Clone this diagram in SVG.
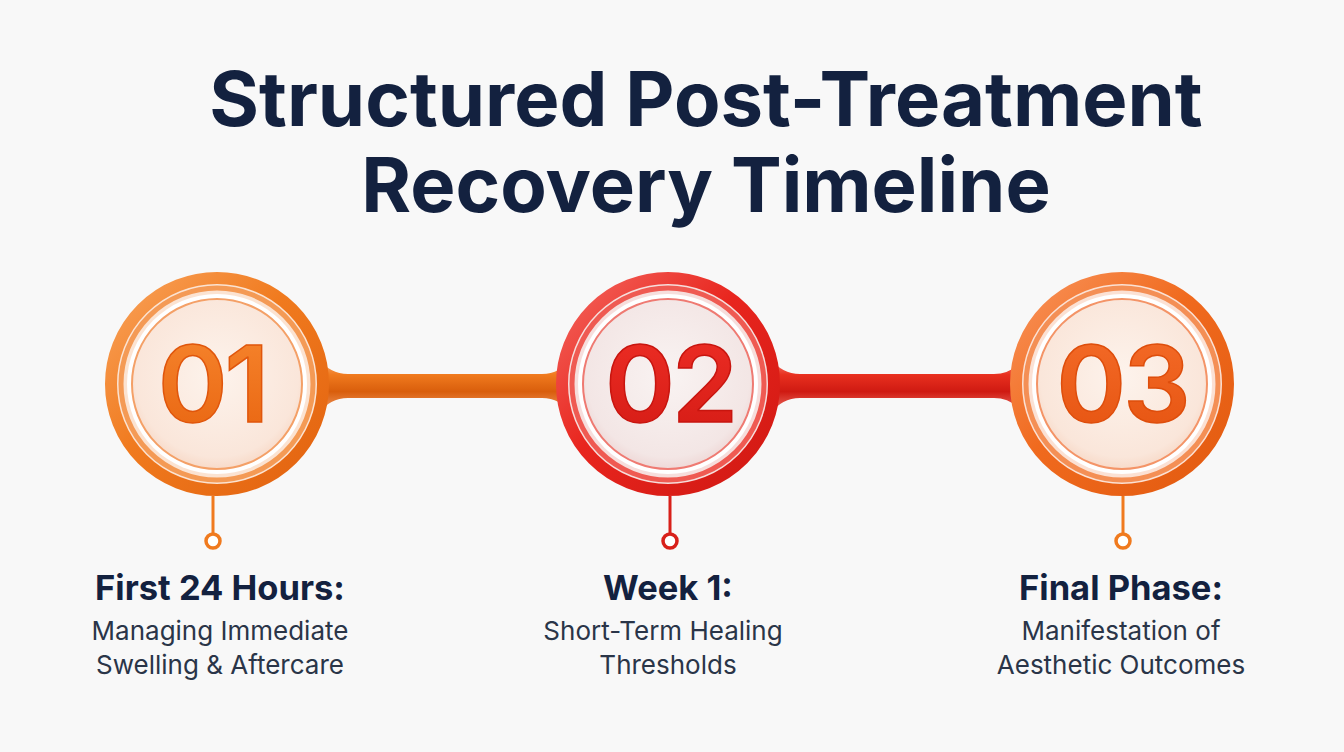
<svg xmlns="http://www.w3.org/2000/svg" width="1344" height="752" viewBox="0 0 1344 752">
<defs>
<style>
.title{font-family:Inter,"Liberation Sans",sans-serif;font-weight:700;font-size:76px;fill:#13213f;text-anchor:middle}
.head{font-family:Inter,"Liberation Sans",sans-serif;font-weight:700;font-size:34.5px;fill:#13213f;text-anchor:middle}
.sub{font-family:Inter,"Liberation Sans",sans-serif;font-weight:400;font-size:26px;fill:#2a3548;text-anchor:middle}
.num{font-family:Inter,"Liberation Sans",sans-serif;font-weight:600;font-size:106px;text-anchor:middle;letter-spacing:-3px}
</style>
<linearGradient id="ringO" x1="0" y1="0" x2="1" y2="1">
<stop offset="0" stop-color="#f9a25a"/><stop offset="0.45" stop-color="#f07a1e"/><stop offset="1" stop-color="#e2620f"/>
</linearGradient>
<linearGradient id="ringR" x1="0" y1="0" x2="1" y2="1">
<stop offset="0" stop-color="#f4665e"/><stop offset="0.45" stop-color="#e8251e"/><stop offset="1" stop-color="#d01812"/>
</linearGradient>
<linearGradient id="ringO3" x1="0" y1="0" x2="1" y2="1">
<stop offset="0" stop-color="#f9935a"/><stop offset="0.45" stop-color="#f06a1e"/><stop offset="1" stop-color="#e25a0f"/>
</linearGradient>
<radialGradient id="discO" cx="0.5" cy="0.45" r="0.6">
<stop offset="0" stop-color="#fdf3ec"/><stop offset="0.8" stop-color="#fae6da"/><stop offset="1" stop-color="#f6d2bd"/>
</radialGradient>
<radialGradient id="discR" cx="0.5" cy="0.45" r="0.6">
<stop offset="0" stop-color="#f9f3f2"/><stop offset="0.8" stop-color="#f3e6e5"/><stop offset="1" stop-color="#eccfcd"/>
</radialGradient>
<linearGradient id="numO" x1="0" y1="0" x2="0" y2="1">
<stop offset="0" stop-color="#f7872f"/><stop offset="1" stop-color="#e8630f"/>
</linearGradient>
<linearGradient id="numR" x1="0" y1="0" x2="0" y2="1">
<stop offset="0" stop-color="#ef2f26"/><stop offset="1" stop-color="#d31a14"/>
</linearGradient>
<linearGradient id="numO3" x1="0" y1="0" x2="0" y2="1">
<stop offset="0" stop-color="#f56d2a"/><stop offset="1" stop-color="#e5520f"/>
</linearGradient>
<linearGradient id="barO" x1="0" y1="0" x2="0" y2="1">
<stop offset="0" stop-color="#f9b07a"/><stop offset="0.3" stop-color="#f07a1e"/><stop offset="0.6" stop-color="#d95e0c"/><stop offset="1" stop-color="#f4a06a"/>
</linearGradient>
<linearGradient id="barR" x1="0" y1="0" x2="0" y2="1">
<stop offset="0" stop-color="#f68a80"/><stop offset="0.3" stop-color="#e8301f"/><stop offset="0.6" stop-color="#cf1a12"/><stop offset="1" stop-color="#f27a6c"/>
</linearGradient>
</defs>
<rect width="1344" height="752" fill="#f8f8f8"/>
<g id="title">
<text class="title" x="706" y="126">Structured Post-Treatment</text>
<text class="title" x="706" y="212">Recovery Timeline</text>
</g>
<g id="connectors">
<path d="M318 358 Q330 374 348 374 L542 374 Q560 374 572 358 L572 414 Q560 398 542 398 L348 398 Q330 398 318 414 Z" fill="url(#barO)"/>
<path d="M770 358 Q782 374 800 374 L994 374 Q1012 374 1024 358 L1024 414 Q1012 398 994 398 L800 398 Q782 398 770 414 Z" fill="url(#barR)"/>
<line x1="213" y1="496" x2="213" y2="533" stroke="#f07a1e" stroke-width="3"/>
<line x1="670" y1="496" x2="670" y2="533" stroke="#d8201a" stroke-width="3"/>
<line x1="1123" y1="496" x2="1123" y2="533" stroke="#f07a1e" stroke-width="3"/>
</g>
<g id="node1">
<circle cx="217" cy="384" r="106" fill="#fbe3d2" stroke="url(#ringO)" stroke-width="12"/>
<circle cx="217" cy="384" r="96" fill="none" stroke="#f49a55" stroke-width="5"/>
<circle cx="217" cy="384" r="90" fill="#ffffff"/>
<circle cx="217" cy="384" r="85" fill="url(#discO)" stroke="#f4a067" stroke-width="2"/>
<text class="num" x="212" y="422" fill="url(#numO)" stroke="#e0560c" stroke-width="1.5">01</text>
<circle cx="213" cy="541" r="7" fill="#fff" stroke="#f07a1e" stroke-width="3.5"/>
<text class="head" x="220" y="600">First 24 Hours:</text>
<text class="sub" x="220" y="640">Managing Immediate</text>
<text class="sub" x="220" y="674">Swelling &amp; Aftercare</text>
</g>
<g id="node2">
<circle cx="668" cy="384" r="106" fill="#f6dedc" stroke="url(#ringR)" stroke-width="12"/>
<circle cx="668" cy="384" r="96" fill="none" stroke="#ef5a52" stroke-width="5"/>
<circle cx="668" cy="384" r="90" fill="#ffffff"/>
<circle cx="668" cy="384" r="85" fill="url(#discR)" stroke="#ef7a72" stroke-width="2"/>
<text class="num" x="670" y="422" fill="url(#numR)" stroke="#c8150f" stroke-width="1.5">02</text>
<circle cx="670" cy="541" r="7" fill="#fff" stroke="#d8201a" stroke-width="3.5"/>
<text class="head" x="668" y="600">Week 1:</text>
<text class="sub" x="663" y="640">Short-Term Healing</text>
<text class="sub" x="668" y="674">Thresholds</text>
</g>
<g id="node3">
<circle cx="1122" cy="384" r="106" fill="#fbe1d4" stroke="url(#ringO3)" stroke-width="12"/>
<circle cx="1122" cy="384" r="96" fill="none" stroke="#f48f55" stroke-width="5"/>
<circle cx="1122" cy="384" r="90" fill="#ffffff"/>
<circle cx="1122" cy="384" r="85" fill="url(#discO)" stroke="#f49467" stroke-width="2"/>
<text class="num" x="1122" y="422" fill="url(#numO3)" stroke="#de4e0c" stroke-width="1.5">03</text>
<circle cx="1123" cy="541" r="7" fill="#fff" stroke="#f07a1e" stroke-width="3.5"/>
<text class="head" x="1121" y="600">Final Phase:</text>
<text class="sub" x="1121" y="640">Manifestation of</text>
<text class="sub" x="1121" y="674">Aesthetic Outcomes</text>
</g>
</svg>
